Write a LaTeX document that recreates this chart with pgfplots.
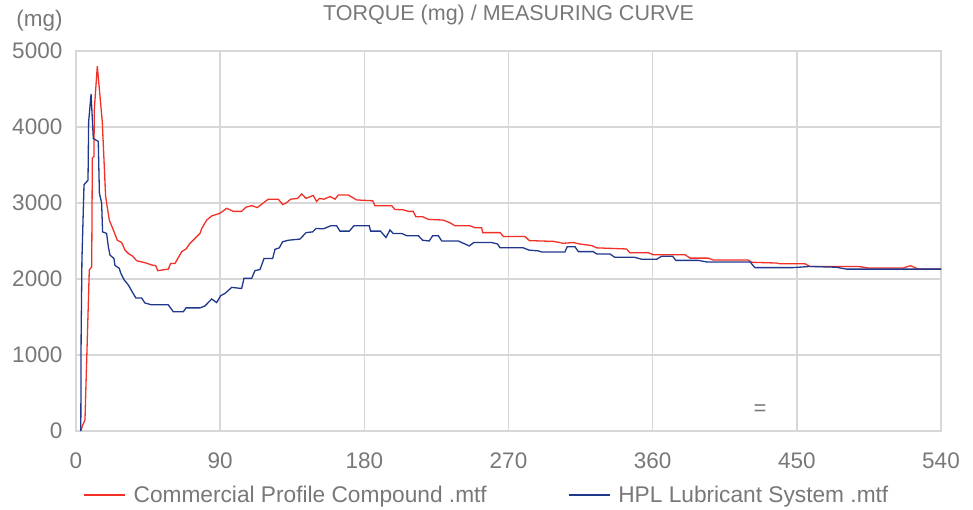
\documentclass[border=0pt]{standalone}
\usepackage{fontspec}
\setmainfont{Liberation Sans}
\usepackage{pgfplots}
\pgfplotsset{compat=1.18}
\definecolor{cred}{RGB}{242,48,38}
\definecolor{cblue}{RGB}{32,56,140}
\definecolor{gridgray}{RGB}{215,215,215}
\definecolor{textgray}{RGB}{120,120,120}

\begin{document}
\begin{tikzpicture}
\path[use as bounding box] (-76pt,-78pt) rectangle (897pt,431pt);
\begin{axis}[
  at={(0pt,0pt)},anchor=south west,scale only axis,
  width=865pt,height=380pt,
  xmin=0,xmax=540,ymin=0,ymax=5000,
  xtick={0,90,...,540},ytick={0,1000,...,5000},
  grid=major,grid style={line width=1.5pt,color=gridgray},
  axis line style={line width=1.5pt,color=gridgray},
  major tick length=0pt,tick style={draw=none},
  /pgf/number format/assume math mode=true,
  /pgf/number format/1000 sep={},
  tick label style={font=\fontsize{22.5}{22.5}\selectfont,text=textgray},
  yticklabel style={inner sep=0pt,anchor=east,xshift=-13.5pt},
  xticklabel style={inner sep=0pt,anchor=north,yshift=-22pt},
  title={TORQUE (mg) / MEASURING CURVE},
  title style={at={(axis description cs:0.5,1.064)},anchor=base,
    font=\fontsize{21.5}{21.5}\selectfont,text=textgray},
  ylabel={(mg)},
  ylabel style={at={(axis description cs:-0.0422,1.064)},rotate=-90,anchor=base,
    font=\fontsize{22.5}{22.5}\selectfont,text=textgray},
  legend columns=2,legend cell align=left,
  legend style={draw=none,fill=none,inner sep=0pt,
    at={(axis description cs:0.008,-0.169)},anchor=west,
    font=\fontsize{22.7}{22.7}\selectfont,text=textgray,
    /tikz/every odd column/.append style={column sep=6pt},
    /tikz/every even column/.append style={column sep=79pt}},
  legend image code/.code={\draw[#1,line width=1.5pt] (0pt,0pt) -- (41pt,0pt);},
]
\addplot[cred,line width=1.3pt] coordinates {
(3,0) (4.2,80) (5.6,145) (8.3,2120) (9.8,2160) (10.2,3590) (11.2,3610)
(11.4,4220) (13.3,4800) (16.4,4070) (18.5,3085) (19.5,2950) (20.8,2775)
(23.3,2645) (25.8,2510) (28.5,2480) (30.6,2380) (32.7,2335) (35.4,2300)
(37.9,2240) (43,2215) (47.2,2185) (49.8,2175) (51,2110) (57.6,2130)
(59.1,2205) (61.8,2205) (66,2360) (68.7,2395) (71.2,2470) (77.4,2600)
(78.5,2665) (81.6,2775) (84.7,2830) (89.9,2865) (94.1,2930) (98.2,2890)
(103.4,2890) (106.1,2945) (109.7,2965) (113.2,2940) (120,3050) (126.3,3050)
(129,2980) (131.5,3005) (134,3050) (138.3,3060) (140.9,3120) (143.6,3060)
(148.1,3100) (150.2,3020) (151.9,3060) (154.8,3050) (158.6,3085) (161.7,3050)
(163.7,3105) (170,3105) (175.2,3040) (185.2,3030) (186.6,2965) (197.1,2965)
(199.1,2915) (204.3,2910) (207.4,2890) (210.5,2890) (212.2,2820) (216.4,2820)
(219.9,2785) (229.3,2775) (233.5,2740) (236.6,2700) (246,2700) (249.1,2675)
(253.2,2675) (253.9,2610) (264.7,2610) (266.8,2560) (280.3,2560) (283,2505)
(298,2495) (304.3,2470) (310.5,2480) (314.6,2460) (321.9,2440) (325,2410)
(343.7,2395) (345.8,2345) (357.3,2345) (360.4,2320) (380.1,2320) (383.3,2275)
(394.7,2275) (397.8,2250) (419.6,2250) (421.8,2220) (437.4,2210) (439.5,2200)
(455.1,2200) (458.2,2165) (488.4,2165) (494.6,2145) (516.4,2145) (521,2175)
(525.8,2130) (540,2130)
};
\addlegendentry{Commercial Profile Compound .mtf}
\addplot[cblue,line width=1.3pt] coordinates {
(3,0) (3.2,1240) (3.7,2250) (5,3240) (7.5,3300) (7.9,4070) (9.4,4434)
(10.8,3850) (13.9,3810) (14.6,3130) (16,3000) (16.6,2620) (19.1,2600)
(20.2,2425) (21.2,2315) (23.7,2270) (24.3,2180) (27,2140) (27.9,2080)
(30,1990) (32.7,1920) (35.4,1820) (37.4,1750) (41,1750) (43,1685)
(47.2,1660) (57.6,1660) (60.7,1570) (67,1570) (68.7,1620) (77.4,1620)
(80.5,1645) (84.7,1737) (87.8,1690) (90.3,1780) (93,1810) (97.2,1890)
(103.4,1875) (104.9,2010) (109.7,2010) (111.7,2110) (114.9,2125) (117.4,2270)
(122.8,2270) (124.2,2390) (126.9,2410) (129,2490) (132.5,2510) (139.8,2525)
(143.6,2610) (147.7,2620) (149.8,2665) (154.4,2660) (159,2700) (162.7,2700)
(164.8,2630) (170.6,2630) (173.5,2700) (183.1,2700) (183.9,2630) (190.1,2630)
(193.5,2545) (196,2645) (198,2600) (203.3,2600) (206.4,2570) (213.7,2570)
(216.4,2510) (220.5,2500) (222.7,2570) (226.2,2570) (228.3,2500) (238.7,2500)
(245.5,2435) (248.4,2480) (259.5,2480) (263.2,2460) (264.7,2410) (279.2,2410)
(282.8,2380) (288.6,2370) (290.7,2355) (305.2,2355) (306.7,2425) (311.5,2425)
(313.6,2360) (322.9,2360) (325,2330) (333.3,2330) (336.4,2285) (348.9,2285)
(353.1,2260) (362.5,2260) (365.6,2300) (372.4,2300) (374.5,2245) (388.4,2245)
(393.6,2225) (420.8,2225) (423.8,2150) (447.7,2150) (458.2,2165) (474.7,2155)
(481,2130) (540,2130)
};
\addlegendentry{HPL Lubricant System .mtf}
\node[text=textgray,font=\fontsize{22}{22}\selectfont] at (axis cs:427,276) {=};
\end{axis}
\end{tikzpicture}
\end{document}
